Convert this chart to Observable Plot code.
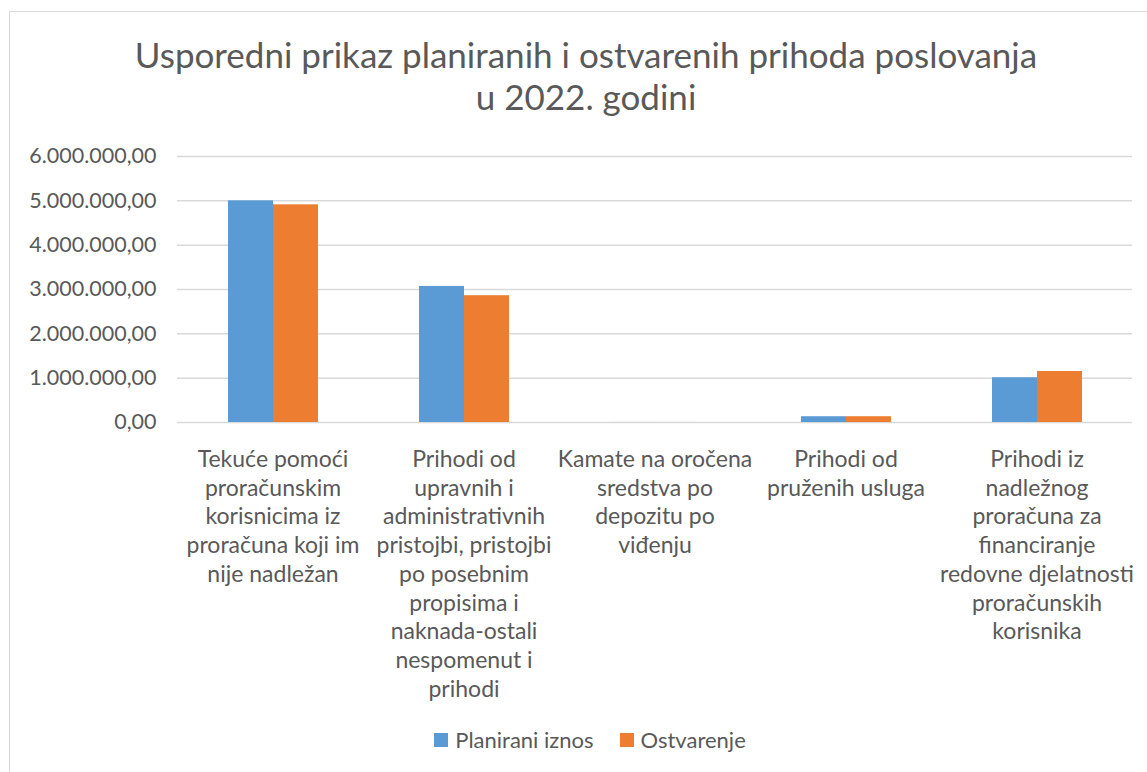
<!DOCTYPE html>
<html><head><meta charset="utf-8">
<script src="https://cdn.jsdelivr.net/npm/d3@7"></script>
<script src="https://cdn.jsdelivr.net/npm/@observablehq/plot@0.6"></script>
<style>
html,body{margin:0;padding:0;background:#fff;overflow:hidden;width:1147px;height:772px;position:relative;}
#frame{position:absolute;left:9px;top:11px;width:1300px;height:900px;border:1.5px solid #d9d9d9;box-sizing:border-box;}
#title{position:absolute;left:0;width:1172px;top:33px;text-align:center;font-family:Lato,sans-serif;font-size:35px;font-weight:400;color:#595959;line-height:42px;}
#chart{position:absolute;left:0;top:140px;}
#legend{position:absolute;left:0;width:1180px;top:726px;display:flex;justify-content:center;align-items:center;font-family:Lato,sans-serif;font-size:22px;color:#595959;}
.sw{display:inline-block;width:14px;height:14px;margin-right:7px;}
.item{display:flex;align-items:center;margin:0 13px;}
</style></head>
<body>
<div id="frame"></div>
<div id="title">Usporedni prikaz planiranih i ostvarenih prihoda poslovanja<br>u 2022. godini</div>
<div id="chart"></div>
<div id="legend"></div>
<script>
const categories = [
  "Tekuće pomoći proračunskim korisnicima iz proračuna koji im nije nadležan",
  "Prihodi od upravnih i administrativnih pristojbi, pristojbi po posebnim propisima i naknada-ostali nespomenut i prihodi",
  "Kamate na oročena sredstva po depozitu po viđenju",
  "Prihodi od pruženih usluga",
  "Prihodi iz nadležnog proračuna za financiranje redovne djelatnosti proračunskih korisnika"
];
const tickLabels = [
  "Tekuće pomoći\nproračunskim\nkorisnicima iz\nproračuna koji im\nnije nadležan",
  "Prihodi od\nupravnih i\nadministrativnih\npristojbi, pristojbi\npo posebnim\npropisima i\nnaknada-ostali\nnespomenut i\nprihodi",
  "Kamate na oročena\nsredstva po\ndepozitu po\nviđenju",
  "Prihodi od\npruženih usluga",
  "Prihodi iz\nnadležnog\nproračuna za\nfinanciranje\nredovne djelatnosti\nproračunskih\nkorisnika"
];
const series = ["Planirani iznos", "Ostvarenje"];
const colors = ["#5B9BD5", "#ED7D31"];
const planned = [5000000, 3070000, 1000, 130000, 1010000];
const actual = [4910000, 2860000, 800, 130000, 1150000];
const yTicks = [0, 1000000, 2000000, 3000000, 4000000, 5000000, 6000000];

const rows = [];
categories.forEach((c, i) => {
  rows.push({category: c, series: series[0], value: planned[i]});
  rows.push({category: c, series: series[1], value: actual[i]});
});
const labelMap = new Map(categories.map((c, i) => [c, tickLabels[i]]));
const hr = d3.formatLocale({decimal: ",", thousands: ".", grouping: [3], currency: ["", ""]});
const fmt = hr.format(",.2f");

const chart = Plot.plot({
  width: 1147, height: 580,
  marginLeft: 176, marginRight: 14, marginTop: 16, marginBottom: 298,
  style: {fontFamily: "Lato, sans-serif", color: "#595959", background: "transparent"},
  fx: {domain: categories, padding: 0, label: null},
  x: {domain: series, axis: null, paddingInner: 0, paddingOuter: 1.1},
  y: {domain: [0, 6000000], label: null},
  color: {domain: series, range: colors},
  marks: [
    Plot.ruleY(yTicks, {stroke: "#d9d9d9", strokeWidth: 1.5}),
    Plot.barY(rows, {fx: "category", x: "series", y: "value", fill: "series"}),
    Plot.axisY({ticks: yTicks, tickFormat: fmt, tickSize: 0, tickPadding: 21, fontSize: 21.5, fill: "#595959", label: null}),
    Plot.axisFx({anchor: "bottom", tickFormat: d => labelMap.get(d), tickSize: 0, tickPadding: 24, fontSize: 23, lineHeight: 1.25, fill: "#595959", label: null})
  ]
});
document.getElementById("chart").appendChild(chart);

const lg = document.getElementById("legend");
series.forEach((s, i) => {
  const it = document.createElement("span");
  it.className = "item";
  const sw = document.createElement("span");
  sw.className = "sw";
  sw.style.background = colors[i];
  it.appendChild(sw);
  it.appendChild(document.createTextNode(s));
  lg.appendChild(it);
});
</script>
</body></html>
